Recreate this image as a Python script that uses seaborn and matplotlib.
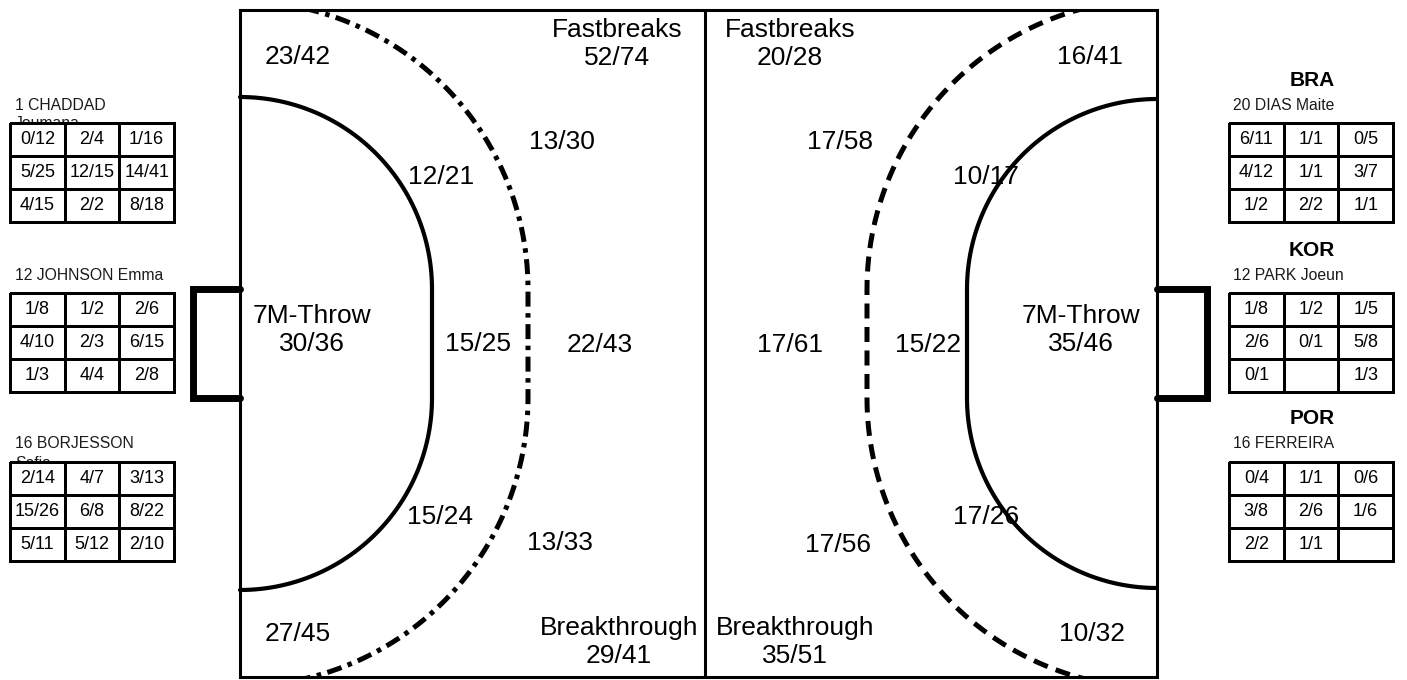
import numpy as np
import seaborn as sns
import matplotlib
matplotlib.use("Agg")
import matplotlib.pyplot as plt
from matplotlib.colors import ListedColormap
from matplotlib.patches import Rectangle

# --- data ---
left_zone_labels = ["23/42", "Fastbreaks\n52/74", "13/30", "12/21", "7M-Throw\n30/36",
                    "15/25", "22/43", "15/24", "13/33", "27/45", "Breakthrough\n29/41"]
right_zone_labels = ["Fastbreaks\n20/28", "16/41", "17/58", "10/17", "17/61", "15/22",
                     "7M-Throw\n35/46", "17/26", "17/56", "Breakthrough\n35/51", "10/32"]

left_names = [["1 CHADDAD", "Joumana"], ["12 JOHNSON Emma"], ["16 BORJESSON", "Sofia"]]
left_tables = [
    [["0/12", "2/4", "1/16"], ["5/25", "12/15", "14/41"], ["4/15", "2/2", "8/18"]],
    [["1/8", "1/2", "2/6"], ["4/10", "2/3", "6/15"], ["1/3", "4/4", "2/8"]],
    [["2/14", "4/7", "3/13"], ["15/26", "6/8", "8/22"], ["5/11", "5/12", "2/10"]],
]
right_teams = ["BRA", "KOR", "POR"]
right_names = ["20 DIAS Maite", "12 PARK Joeun", "16 FERREIRA"]
right_tables = [
    [["6/11", "1/1", "0/5"], ["4/12", "1/1", "3/7"], ["1/2", "2/2", "1/1"]],
    [["1/8", "1/2", "1/5"], ["2/6", "0/1", "5/8"], ["0/1", "", "1/3"]],
    [["0/4", "1/1", "0/6"], ["3/8", "2/6", "1/6"], ["2/2", "1/1", ""]],
]

# --- layout (pixels) ---
W, H = 1407, 680
left_zone_xy = [(298, 57), (617, 44), (562, 142), (441, 177), (312, 330), (478, 344),
                (600, 345), (440, 517), (560, 543), (298, 634), (619, 642)]
right_zone_xy = [(790, 44), (1090, 57), (840, 142), (986, 177), (790, 345), (928, 345),
                 (1081, 330), (986, 517), (838, 545), (795, 642), (1092, 634)]
table_tops = [123, 293, 462]
table_h = 99
left_table_x, right_table_x, table_w = 10, 1229, 164

sns.set_theme(style="white")
plt.rcParams["font.family"] = ["Liberation Sans", "DejaVu Sans"]

fig = plt.figure(figsize=(W / 100, H / 100), dpi=100)
ax = fig.add_axes([0, 0, 1, 1])
ax.set_xlim(0, W)
ax.set_ylim(H, 0)
ax.axis("off")

# court outline
c_left, c_right, c_top, c_bot, c_mid = 240, 1157, 10, 677, 705
post_top, post_bot = 289, 398
ax.plot([c_left, c_right, c_right, c_left, c_left], [c_top, c_top, c_bot, c_bot, c_top],
        color="black", lw=2.2, solid_joinstyle="miter")
ax.plot([c_mid, c_mid], [c_top, c_bot], color="black", lw=2.2)

# goals
ax.plot([c_left, 193, 193, c_left], [post_top, post_top, post_bot, post_bot],
        color="black", lw=5, solid_joinstyle="miter")
ax.plot([c_right, 1207, 1207, c_right], [post_top, post_top, post_bot, post_bot],
        color="black", lw=5, solid_joinstyle="miter")

clip = Rectangle((c_left, c_top), c_right - c_left, c_bot - c_top, transform=ax.transData)


def area_line(xg, r, sign):
    t = np.linspace(np.pi / 2, 0, 60)
    x1 = xg + sign * r * np.cos(t)
    y1 = post_top - r * np.sin(t)
    x2 = xg + sign * r * np.cos(t[::-1])
    y2 = post_bot + r * np.sin(t[::-1])
    return np.concatenate([x1, x2]), np.concatenate([y1, y2])


x, y = area_line(c_left, 192, 1)
ax.plot(x, y, color="black", lw=3)
x, y = area_line(c_right, 190, -1)
ax.plot(x, y, color="black", lw=3)
x, y = area_line(c_left, 288, 1)
ln, = ax.plot(x, y, color="black", lw=3.6, linestyle=(0, (3, 1.3, 0.9, 1.3)))
ln.set_clip_path(clip)
x, y = area_line(c_right, 290, -1)
ln, = ax.plot(x, y, color="black", lw=3.6, linestyle=(0, (3, 1.7)))
ln.set_clip_path(clip)

for lab, (px, py) in zip(left_zone_labels + right_zone_labels, left_zone_xy + right_zone_xy):
    ax.text(px, py, lab, ha="center", va="center", fontsize=19, color="black",
            linespacing=1.2, multialignment="center")

# player names (second line ends up half hidden under the table, as in the source)
for lines, top in zip(left_names, table_tops):
    for i, line in enumerate(lines):
        ax.text(15, top - 18 + 19 * i, line, ha="left", va="center", fontsize=11.3,
                color="#1a1a1a")
for team, name, top in zip(right_teams, right_names, table_tops):
    ax.text(1312, top - 43, team, ha="center", va="center", fontsize=15,
            fontweight="bold", color="black")
    ax.text(1233, top - 18, name, ha="left", va="center", fontsize=11.3, color="#1a1a1a")

# goalkeeper tables
white = ListedColormap(["white"])
for tx, tables in [(left_table_x, left_tables), (right_table_x, right_tables)]:
    for cells, top in zip(tables, table_tops):
        tax = fig.add_axes([tx / W, 1 - (top + table_h) / H, table_w / W, table_h / H])
        sns.heatmap(np.zeros((3, 3)), annot=np.array(cells), fmt="", cmap=white, cbar=False,
                    linewidths=2, linecolor="black", xticklabels=False, yticklabels=False,
                    annot_kws={"fontsize": 13, "color": "black"}, ax=tax)
        tax.collections[0].set_clip_on(False)

fig.savefig("out.png", dpi=100)
